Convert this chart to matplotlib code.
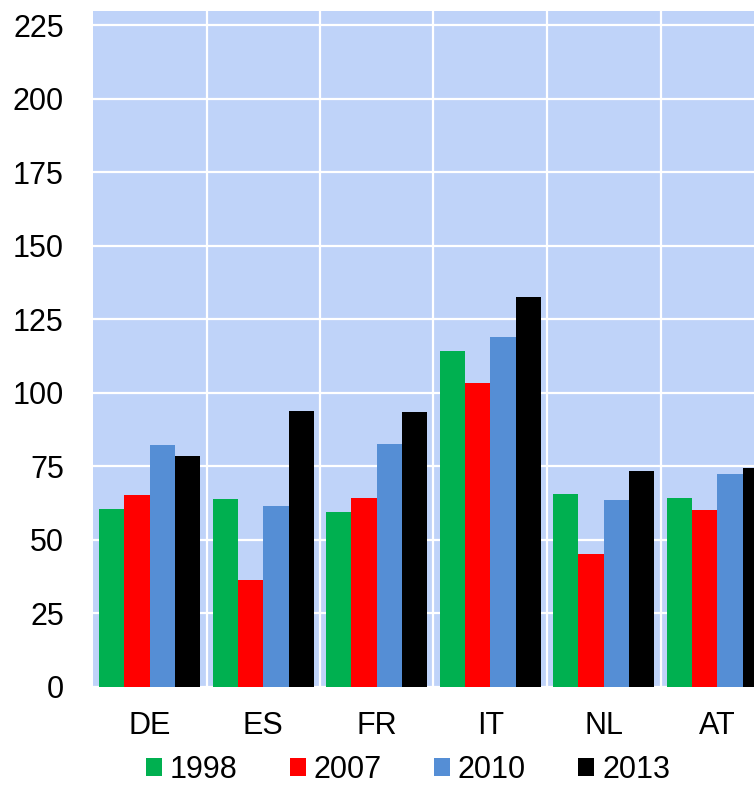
import numpy as np
import matplotlib
matplotlib.use("Agg")
from matplotlib import pyplot as plt

countries = ["DE", "ES", "FR", "IT", "NL", "AT"]
years = ["1998", "2007", "2010", "2013"]
v1998 = [60.3, 63.9, 59.2, 114.1, 65.6, 64.1]
v2007 = [65.0, 36.1, 64.1, 103.1, 45.2, 60.0]
v2010 = [82.2, 61.5, 82.5, 119.0, 63.3, 72.3]
v2013 = [78.3, 93.7, 93.3, 132.4, 73.2, 74.2]
colors = ["#00B050", "#FF0000", "#558ED5", "#000000"]

plt.rcParams['font.family'] = ['Liberation Sans', 'DejaVu Sans']

fig = plt.figure(figsize=(7.54, 7.87), dpi=100)
ax = fig.add_axes([93 / 754, 100.5 / 787, 1 - 93 / 754, 675.5 / 787])
ax.set_facecolor("#BFD3F9")

x = np.arange(len(countries))
w = 0.223
series = [v1998, v2007, v2010, v2013]
for i, vals in enumerate(series):
    ax.bar(x + (i - 1.5) * w, vals, w, color=colors[i], label=years[i], zorder=2)

ax.set_xlim(-0.5, -0.5 + 661 / 113.5)
ax.set_ylim(0, 229.8)
ax.set_yticks(np.arange(0, 226, 25))
ax.set_xticks(x)
ax.set_xticklabels(countries)
ax.set_xticks(x[:-1] + 0.5, minor=True)
ax.set_axisbelow(True)
ax.grid(axis="y", color="white", linewidth=1.6)
ax.grid(axis="x", which="minor", color="white", linewidth=1.6)
ax.tick_params(axis="both", which="both", length=0, labelsize=22)
ax.tick_params(axis="y", pad=21)
ax.tick_params(axis="x", pad=18)
for s in ax.spines.values():
    s.set_visible(False)

fig.legend(loc="center", bbox_to_anchor=(408 / 754, 1 - 770 / 787), ncol=4,
           frameon=False, fontsize=22, handlelength=0.52, handleheight=0.52,
           handletextpad=0.27, columnspacing=1.7, borderpad=0)

fig.savefig("out.png", dpi=100)
